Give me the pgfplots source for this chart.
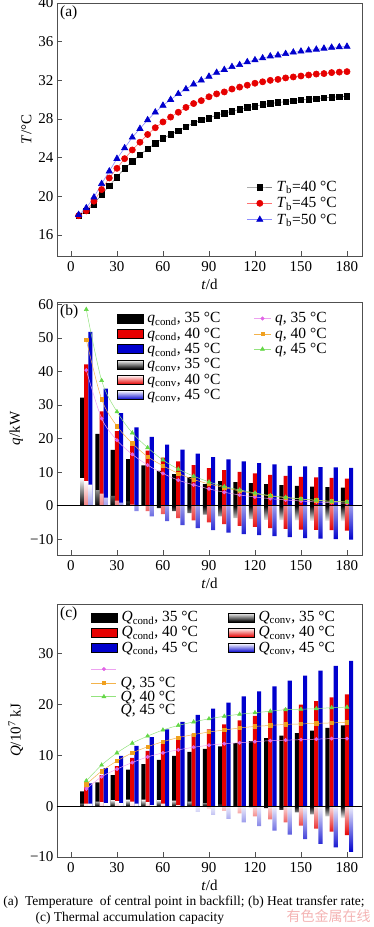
\documentclass[border=0pt]{standalone}
\usepackage{fontspec}
\setmainfont{Liberation Serif}
\newfontfamily\cjk{Noto Sans CJK SC}
\usepackage{pgfplots}
\usepackage{pgfplotstable}
\pgfplotsset{compat=1.18}
\definecolor{cRed}{RGB}{230,0,0}
\definecolor{cBlue}{RGB}{0,0,205}
\definecolor{cPink}{RGB}{225,100,230}
\definecolor{cOrange}{RGB}{240,160,30}
\definecolor{cGreen}{RGB}{100,215,70}
\definecolor{cFrame}{RGB}{80,80,80}
\definecolor{cWater}{RGB}{244,180,180}

\pgfplotstableread{
t a40 a45 a50
5 18.0 18.0 18.1
10 18.5 18.5 18.8
15 19.2 19.5 19.9
20 20.2 20.7 21.3
25 21.1 21.9 22.6
30 22.0 22.9 23.9
35 22.9 23.9 25.0
40 23.6 24.8 26.1
45 24.3 25.6 27.0
50 24.9 26.4 27.9
55 25.5 27.1 28.7
60 26.0 27.7 29.4
65 26.4 28.2 30.0
70 26.8 28.7 30.6
75 27.2 29.2 31.1
80 27.6 29.6 31.6
85 27.9 29.9 32.0
90 28.1 30.3 32.4
95 28.4 30.6 32.8
100 28.6 30.8 33.1
105 28.8 31.1 33.4
110 29.0 31.3 33.6
115 29.2 31.5 33.9
120 29.3 31.7 34.1
125 29.5 31.85 34.3
130 29.6 32.0 34.5
135 29.7 32.1 34.6
140 29.8 32.25 34.75
145 29.9 32.35 34.9
150 30.0 32.45 35.0
155 30.05 32.55 35.1
160 30.1 32.65 35.2
165 30.2 32.7 35.3
170 30.25 32.8 35.4
175 30.3 32.85 35.45
180 30.35 32.9 35.5
}\tdata

\pgfplotstableread{
t c35 c40 c45 v35 v40 v45 q35 q40 q45
10 32.2 42.1 51.8 8.2 7.3 6.3 40.4 49.4 58.5
20 21.4 28.1 34.9 4.6 3.6 2.4 26.0 31.7 37.3
30 16.6 22.2 27.6 2.9 1.5 0.9 19.5 23.7 28.0
40 13.9 17.8 23.3 1.3 0.4 -1.6 15.3 18.6 21.7
50 12.0 16.4 20.5 0.2 -1.6 -3.2 12.1 14.6 17.3
60 10.4 14.3 18.2 -0.7 -2.5 -4.6 9.6 11.9 13.6
70 9.4 13.2 16.7 -1.6 -3.7 -5.8 7.6 9.6 10.9
80 8.5 12.1 15.5 -2.2 -4.4 -6.7 6.2 7.8 8.8
90 6.4 11.2 14.5 -2.7 -5.0 -7.3 5.0 6.5 7.1
100 7.3 10.6 13.8 -3.2 -5.5 -8.0 4.0 5.4 5.7
110 7.0 10.1 13.2 -3.7 -6.0 -8.5 3.2 4.4 4.7
120 6.7 9.6 12.7 -4.0 -6.3 -8.8 2.6 3.6 3.8
130 6.4 9.2 12.3 -4.2 -6.7 -9.1 2.1 2.9 3.0
140 6.1 8.9 11.9 -4.3 -6.9 -9.4 1.7 2.4 2.5
150 5.9 8.6 11.7 -4.4 -7.1 -9.7 1.4 2.0 2.0
160 5.7 8.4 11.5 -4.5 -7.2 -9.8 1.1 1.6 1.6
170 5.5 8.3 11.4 -4.6 -7.3 -10.0 0.9 1.3 1.3
180 5.4 8.1 11.3 -4.7 -7.4 -10.1 0.7 1.1 1.1
}\qdata

\pgfplotstableread{
t c35 c40 c45 v35 v40 v45 Q35 Q40 Q45
10 2.9 3.7 4.5 0.5 0.5 0.5 3.4 4.3 5.0
20 4.7 6.1 7.5 0.9 0.8 0.6 5.8 6.9 8.1
30 6.1 7.9 9.9 1.2 1.0 0.6 7.3 8.9 10.5
40 7.2 9.5 11.9 1.3 0.9 0.5 8.6 10.5 12.4
50 8.3 10.9 13.6 1.3 0.8 0.2 9.7 11.7 13.8
60 9.1 12.2 15.1 1.2 0.5 -0.1 10.5 12.7 15.0
70 9.9 13.3 16.6 1.1 0.2 -0.5 11.1 13.5 15.9
80 10.7 14.3 18.0 0.9 -0.1 -1.1 11.6 14.1 16.6
90 11.3 15.1 19.2 0.6 -0.5 -1.7 12.0 14.6 17.2
100 11.8 16.1 20.4 0.3 -0.9 -2.5 12.3 15.0 17.7
110 12.4 16.9 21.6 0.05 -1.4 -3.2 12.5 15.4 18.1
120 12.8 17.8 22.6 -0.2 -2.0 -3.9 12.7 15.7 18.4
130 13.4 18.6 23.6 -0.4 -2.6 -4.8 12.9 15.9 18.7
140 13.9 19.2 24.7 -0.7 -3.2 -5.6 13.0 16.1 19.0
150 14.4 20.0 25.7 -1.2 -3.8 -6.5 13.1 16.2 19.1
160 14.9 20.7 26.7 -1.6 -4.4 -7.4 13.2 16.3 19.2
170 15.4 21.4 27.6 -2.0 -5.0 -8.1 13.3 16.4 19.4
180 15.9 22.0 28.6 -2.4 -5.7 -9.0 13.3 16.5 19.5
}\Qdata

\newcommand{\fs}{\fontsize{15}{17}\selectfont}
\newcommand{\fl}{\fontsize{15.5}{17}\selectfont}
\newcommand{\fc}{\fontsize{13.5}{15}\selectfont}
\pgfplotsset{
  base/.style={
    width=305pt, height=253pt, scale only axis, anchor=north west,
    xmin=-9.1, xmax=189.8, xtick={0,30,...,180},
    tick align=inside, xtick pos=bottom, ytick pos=left,
    major tick length=5pt,
    axis line style={cFrame, line width=0.8pt},
    tick style={cFrame, line width=0.8pt},
    font=\fs, tick label style={font=\fs}, label style={font=\fs},
    /pgf/number format/assume math mode=true,
    xticklabel style={yshift=-2pt},
    xlabel={\textit{t}/d},
    xlabel style={at={(axis description cs:0.5,0)}, anchor=center, yshift=-28.5pt},
  },
  legsty/.style={draw=none, fill=none, inner sep=0pt, outer sep=0pt, font=\fl,
      row sep=1.5pt, nodes={inner sep=1pt},
      /tikz/every odd column/.append style={column sep=3pt}},
  hid/.style={width=305pt, height=253pt, scale only axis, anchor=north west,
    hide axis, xmin=0, xmax=1, ymin=0, ymax=1,
    legend cell align=left,
    legend style={legsty},
  },
  barimg/.style={legend image code/.code={\path[#1] (0pt,-4.5pt) rectangle (26pt,4.5pt);}},
  lineA/.style={legend image code/.code={\draw[mark repeat=2,mark phase=2,##1] plot coordinates {(0pt,0pt) (12.5pt,0pt) (25pt,0pt)};}},
  lineB/.style={legend image code/.code={\draw[mark repeat=2,mark phase=2,##1] plot coordinates {(0pt,0pt) (8.5pt,0pt) (17pt,0pt)};}},
  cbar/.style={ybar, bar width=2.7, bar shift=#1, draw=none},
}

\begin{document}
\begin{tikzpicture}
\useasboundingbox (0pt,0pt) rectangle (374pt,-927pt);

% ---------------- (a)
\begin{axis}[base, at={(57pt,-3pt)},
  ymin=13.83, ymax=40, ytick={16,20,...,40},
  ylabel={\textit{T}/°C},
  legend cell align=left,
  legend style={legsty, at={(0.623,0.30)}, anchor=north west, row sep=2.5pt},
  lineA]
\addplot[gray, line width=0.6pt, mark=square*, mark size=2.8pt, mark options={fill=black, draw=black}] table[x=t,y=a40]{\tdata};
\addlegendentry{\textit{T}\textsubscript{b}=40 °C}
\addplot[red!55, line width=0.6pt, mark=*, mark size=3.1pt, mark options={fill=cRed, draw=cRed}] table[x=t,y=a45]{\tdata};
\addlegendentry{\textit{T}\textsubscript{b}=45 °C}
\addplot[blue!45, line width=0.6pt, mark=triangle*, mark size=3.6pt, mark options={fill=cBlue, draw=cBlue}] table[x=t,y=a50]{\tdata};
\addlegendentry{\textit{T}\textsubscript{b}=50 °C}
\node[anchor=north west, inner sep=3pt, font=\fl] at (rel axis cs:0,1) {(a)};
\end{axis}

% ---------------- (b)
\begin{axis}[base, at={(57pt,-302pt)},
  ymin=-14.7, ymax=60.7, ytick={-10,0,...,60},
  yticklabels={−10,0,10,20,30,40,50,60},
  ylabel={\textit{q}/kW}]
\addplot[cbar=-2.7, fill=black] table[x=t,y=c35]{\qdata};
\addplot[cbar=0, fill=cRed] table[x=t,y=c40]{\qdata};
\addplot[cbar=2.7, fill=cBlue] table[x=t,y=c45]{\qdata};
\addplot[cbar=-2.7, top color=white, bottom color=black, restrict y to domain=0:100] table[x=t,y=v35]{\qdata};
\addplot[cbar=-2.7, top color=black, bottom color=white, restrict y to domain=-100:0] table[x=t,y=v35]{\qdata};
\addplot[cbar=0, top color=white, bottom color=cRed] table[x=t,y=v40]{\qdata};
\addplot[cbar=2.7, top color=white, bottom color=cBlue] table[x=t,y=v45]{\qdata};
\draw[black, line width=0.8pt] (axis cs:-9.1,0) -- (axis cs:189.8,0);
\addplot[cPink!60, line width=0.5pt, smooth, mark=*, mark size=1.7pt, mark options={fill=cPink, draw=cPink}] table[x=t,y=q35]{\qdata};
\addplot[cOrange!80, line width=0.5pt, smooth, mark=square*, mark size=1.7pt, mark options={fill=cOrange, draw=cOrange}] table[x=t,y=q40]{\qdata};
\addplot[cGreen!70, line width=0.5pt, smooth, mark=triangle*, mark size=2.3pt, mark options={fill=cGreen, draw=cGreen}] table[x=t,y=q45]{\qdata};
\node[anchor=north west, inner sep=3pt, font=\fl] at (rel axis cs:0,1) {(b)};
\end{axis}
\begin{axis}[hid, at={(57pt,-302pt)}, legend style={at={(0.197,0.962)}, anchor=north west}]
\addlegendimage{barimg={fill=black}}\addlegendentry{\textit{q}\textsubscript{cond}, 35 °C}
\addlegendimage{barimg={fill=cRed}}\addlegendentry{\textit{q}\textsubscript{cond}, 40 °C}
\addlegendimage{barimg={fill=cBlue}}\addlegendentry{\textit{q}\textsubscript{cond}, 45 °C}
\addlegendimage{barimg={top color=white, bottom color=black}}\addlegendentry{\textit{q}\textsubscript{conv}, 35 °C}
\addlegendimage{barimg={top color=white, bottom color=cRed}}\addlegendentry{\textit{q}\textsubscript{conv}, 40 °C}
\addlegendimage{barimg={top color=white, bottom color=cBlue}}\addlegendentry{\textit{q}\textsubscript{conv}, 45 °C}
\end{axis}
\begin{axis}[hid, at={(57pt,-302pt)}, legend style={at={(0.645,0.962)}, anchor=north west}, lineB]
\addlegendimage{cPink!60, line width=0.5pt, mark=*, mark size=1.7pt, mark options={fill=cPink, draw=cPink}}\addlegendentry{\textit{q}, 35 °C}
\addlegendimage{cOrange!80, line width=0.5pt, mark=square*, mark size=1.7pt, mark options={fill=cOrange, draw=cOrange}}\addlegendentry{\textit{q}, 40 °C}
\addlegendimage{cGreen!70, line width=0.5pt, mark=triangle*, mark size=2.3pt, mark options={fill=cGreen, draw=cGreen}}\addlegendentry{\textit{q}, 45 °C}
\end{axis}

% ---------------- (c)
\begin{axis}[base, at={(57pt,-604pt)},
  ymin=-10, ymax=39.8, ytick={-10,0,...,30},
  yticklabels={−10,0,10,20,30},
  ylabel={\textit{Q}/10\textsuperscript{7} kJ}]
\addplot[cbar=-2.7, fill=black] table[x=t,y=c35]{\Qdata};
\addplot[cbar=0, fill=cRed] table[x=t,y=c40]{\Qdata};
\addplot[cbar=2.7, fill=cBlue] table[x=t,y=c45]{\Qdata};
\addplot[cbar=-2.7, top color=white, bottom color=black, restrict y to domain=0:100] table[x=t,y=v35]{\Qdata};
\addplot[cbar=-2.7, top color=black, bottom color=white, restrict y to domain=-100:0] table[x=t,y=v35]{\Qdata};
\addplot[cbar=0, top color=white, bottom color=cRed] table[x=t,y=v40]{\Qdata};
\addplot[cbar=2.7, top color=white, bottom color=cBlue] table[x=t,y=v45]{\Qdata};
\draw[black, line width=0.8pt] (axis cs:-9.1,0) -- (axis cs:189.8,0);
\addplot[cPink!60, line width=0.5pt, smooth, mark=*, mark size=1.7pt, mark options={fill=cPink, draw=cPink}] table[x=t,y=Q35]{\Qdata};
\addplot[cOrange!80, line width=0.5pt, smooth, mark=square*, mark size=1.7pt, mark options={fill=cOrange, draw=cOrange}] table[x=t,y=Q40]{\Qdata};
\addplot[cGreen!70, line width=0.5pt, smooth, mark=triangle*, mark size=2.3pt, mark options={fill=cGreen, draw=cGreen}] table[x=t,y=Q45]{\Qdata};
\node[anchor=north west, inner sep=3pt, font=\fl] at (rel axis cs:0,1) {(c)};
\end{axis}
\begin{axis}[hid, at={(57pt,-604pt)}, legend style={at={(0.112,0.975)}, anchor=north west}]
\addlegendimage{barimg={fill=black}}\addlegendentry{\textit{Q}\textsubscript{cond}, 35 °C}
\addlegendimage{barimg={fill=cRed}}\addlegendentry{\textit{Q}\textsubscript{cond}, 40 °C}
\addlegendimage{barimg={fill=cBlue}}\addlegendentry{\textit{Q}\textsubscript{cond}, 45 °C}
\end{axis}
\begin{axis}[hid, at={(57pt,-604pt)}, legend style={at={(0.561,0.975)}, anchor=north west}]
\addlegendimage{barimg={top color=white, bottom color=black}}\addlegendentry{\textit{Q}\textsubscript{conv}, 35 °C}
\addlegendimage{barimg={top color=white, bottom color=cRed}}\addlegendentry{\textit{Q}\textsubscript{conv}, 40 °C}
\addlegendimage{barimg={top color=white, bottom color=cBlue}}\addlegendentry{\textit{Q}\textsubscript{conv}, 45 °C}
\end{axis}
\begin{axis}[hid, at={(57pt,-604pt)}, legend style={at={(0.112,0.77)}, anchor=north west, row sep=0pt}, lineA]
\addlegendimage{cPink!60, line width=0.5pt, mark=*, mark size=1.7pt, mark options={fill=cPink, draw=cPink}}\addlegendentry{\phantom{Q}}
\addlegendimage{cOrange!80, line width=0.5pt, mark=square*, mark size=1.7pt, mark options={fill=cOrange, draw=cOrange}}\addlegendentry{\textit{Q}, 35 °C}
\addlegendimage{cGreen!70, line width=0.5pt, mark=triangle*, mark size=2.3pt, mark options={fill=cGreen, draw=cGreen}}\addlegendentry{\textit{Q}, 40 °C}
\addlegendimage{empty legend}\addlegendentry{\textit{Q}, 45 °C}
\end{axis}

% ---------------- caption
\node[anchor=base, font=\fc] at (184pt,-905pt)
  {(a)\ \ Temperature\ \ of central point in backfill; (b) Heat transfer rate;};
\node[anchor=base west, font=\fc] at (32pt,-921pt)
  {(c) Thermal\ accumulation capacity};
\node[anchor=base west, font=\cjk\fontsize{14}{16}\selectfont, text=cWater] at (283pt,-921pt) {有色金属在线};
\end{tikzpicture}
\end{document}
